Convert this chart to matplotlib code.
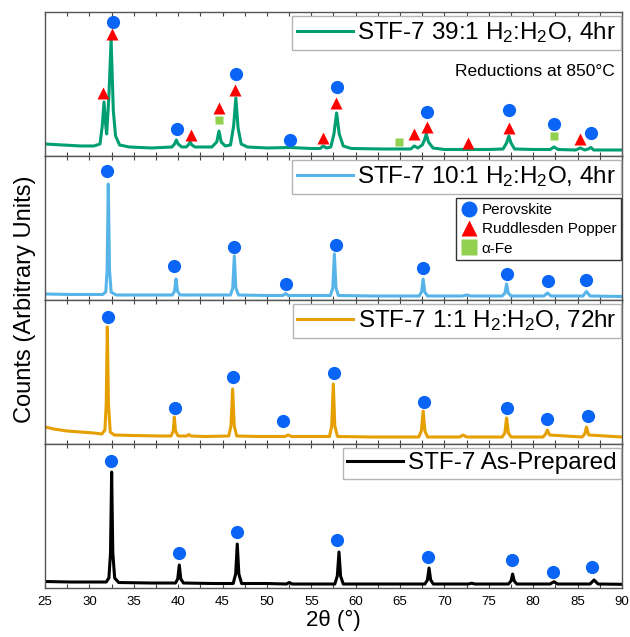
import matplotlib
matplotlib.use("Agg")
import matplotlib.pyplot as plt
from matplotlib.lines import Line2D
from matplotlib.ticker import MultipleLocator

plt.rcParams['font.family'] = ['Liberation Sans', 'DejaVu Sans']
plt.rcParams['mathtext.fontset'] = 'custom'
plt.rcParams['mathtext.rm'] = 'Liberation Sans'
plt.rcParams['mathtext.it'] = 'Liberation Sans:italic'
plt.rcParams['mathtext.default'] = 'regular'

# ---------------- data (2theta in degrees, counts in arbitrary units) ----------------
labels = ["STF-7 39:1 H$_2$:H$_2$O, 4hr",
          "STF-7 10:1 H$_2$:H$_2$O, 4hr",
          "STF-7 1:1 H$_2$:H$_2$O, 72hr",
          "STF-7 As-Prepared"]
line_colors = ["#009E73", "#56B4E9", "#E69F00", "#000000"]

# Panel 1 : 39:1 H2:H2O, 4 hr
tt_39 = [25, 27, 29, 30.5, 31.2, 31.45, 31.65, 31.85, 31.95, 32.2, 32.45, 32.7, 32.95, 33.4,
         34.5, 37, 39.3, 39.6, 39.8, 40.0, 40.4, 40.9, 41.15, 41.35, 41.55, 41.9, 43.8, 44.35,
         44.6, 44.85, 45.3, 45.9, 46.25, 46.5, 46.75, 47.1, 47.8, 50, 52.6, 55, 56.0, 56.35,
         56.7, 57.2, 57.55, 57.85, 58.15, 58.6, 59.5, 63, 65, 66.2, 66.6, 67.0, 67.5, 67.75,
         67.95, 68.2, 68.7, 70, 72.7, 75, 76.6, 77.0, 77.25, 77.5, 77.9, 80, 81.9, 82.35, 82.8,
         84.8, 85.3, 85.8, 86.2, 86.5, 86.8, 88, 90]
cnt_39 = [12, 11, 10, 10, 12, 30, 54, 30, 22, 60, 116, 45, 20, 11,
          9, 8, 9, 12, 16, 12, 9, 9, 11, 14, 11, 9, 9, 14,
          25, 14, 10, 11, 30, 58, 28, 12, 9, 8, 8.5, 7.5, 7.5, 10,
          8, 9, 22, 43, 22, 10, 7.5, 7, 7, 7, 10, 8, 11, 16,
          22, 14, 8, 6.5, 6.5, 6.5, 7, 13, 20, 13, 7, 6.5, 6.5, 9, 6.5,
          6, 8, 6, 7, 8.5, 6, 6, 6]

# Panel 2 : 10:1 H2:H2O, 4 hr
tt_10 = [25, 28, 31.5, 31.85, 32.0, 32.13, 32.27, 32.45, 33, 36, 39.35, 39.6, 39.76, 39.92,
         40.2, 43, 45.9, 46.15, 46.33, 46.5, 46.8, 50, 51.8, 52.1, 52.4, 55, 57.15, 57.42,
         57.6, 57.78, 58.05, 62, 67.15, 67.42, 67.6, 67.78, 68.1, 72, 72.5, 73, 76.5, 76.82,
         77.0, 77.18, 77.5, 81.2, 81.6, 82.0, 85.6, 86.0, 86.4, 90]
cnt_10 = [6, 5.5, 5.5, 8, 30, 116, 30, 8, 5, 5, 5, 9, 21, 9,
          5, 5, 5, 12, 44, 12, 5, 4.5, 4.5, 6.5, 4.5, 4.5, 4.5, 12,
          46, 12, 4.5, 4, 4, 8, 21, 8, 4, 4, 5, 4, 4, 7,
          16, 7, 4, 4, 7, 4, 4, 8.5, 4, 3.5]

# Panel 3 : 1:1 H2:H2O, 72 hr
tt_1 = [25, 26, 27.5, 29, 30.5, 31.4, 31.75, 31.9, 32.02, 32.15, 32.35, 32.8, 35, 38, 39.2,
        39.45, 39.57, 39.7, 40.0, 41.0, 41.2, 41.45, 43, 45.7, 45.95, 46.14, 46.32, 46.6, 49,
        52.0, 52.4, 52.8, 55, 57.05, 57.3, 57.48, 57.65, 57.95, 62, 67.1, 67.4, 67.6, 67.8,
        68.1, 71.7, 72.1, 72.5, 76.5, 76.8, 77.0, 77.2, 77.5, 81.1, 81.4, 81.6, 81.85, 85.5,
        85.8, 86.0, 86.25, 90]
cnt_1 = [17, 15, 13, 12, 11, 10, 14, 40, 117, 40, 12, 9, 8.5, 8, 8,
         13, 27, 13, 8, 8, 9.5, 8, 7.5, 8, 18, 55, 18, 8, 7.5,
         7.5, 9, 7.5, 7.5, 7.5, 18, 60, 18, 7.5, 7, 7, 13, 33, 13,
         7, 7, 9, 7, 7, 11, 26, 11, 7, 7, 10, 14, 9, 7,
         10, 17, 9, 7]

# Panel 4 : as-prepared
tt_ap = [25, 28, 31.9, 32.2, 32.38, 32.51, 32.64, 32.85, 33.3, 37, 39.7, 39.95, 40.13, 40.3,
         40.6, 44, 46.2, 46.48, 46.66, 46.84, 47.15, 50, 52.2, 52.52, 52.85, 55, 57.65, 57.93,
         58.12, 58.3, 58.6, 63, 67.8, 68.08, 68.26, 68.45, 68.75, 72.7, 73.07, 73.4, 77.2,
         77.5, 77.68, 77.86, 78.15, 81.9, 82.34, 82.75, 86.4, 86.85, 87.3, 90]
cnt_ap = [6.5, 6, 6, 10, 35, 116, 35, 10, 5.5, 5, 5, 9, 23, 9,
          5, 4.5, 4.5, 14, 44, 14, 4.5, 4.5, 4, 5.5, 4, 4, 4, 12,
          36, 12, 4, 4, 4, 8, 20, 8, 4, 4, 4.8, 4, 4,
          7, 14, 7, 4, 4, 6.3, 4, 4, 8, 4, 3.7]

# Phase markers: Perovskite (circle), Ruddlesden-Popper (triangle), alpha-Fe (square)
perov_x_39 = [32.63, 39.84, 46.52, 52.60, 57.86, 68.0, 77.27, 82.37, 86.51]
perov_y_39 = [134, 27, 82, 16, 69, 44, 46, 32, 23]
rp_x_39 = [31.50, 32.51, 41.41, 44.64, 46.44, 56.35, 57.78, 66.57, 68.07, 72.69, 77.30, 85.27]
rp_y_39 = [63, 122, 21, 48, 66, 18, 53, 22, 29, 13, 28, 17]
fe_x_39 = [44.64, 64.91, 82.37]
fe_y_39 = [36, 14, 20]

perov_x_10 = [32.0, 39.57, 46.33, 52.1, 57.78, 67.6, 77.0, 81.7, 85.95]
perov_y_10 = [129, 34, 53, 16, 55, 32, 26, 19, 20]

perov_x_1 = [32.06, 39.64, 46.14, 51.85, 57.6, 67.73, 77.1, 81.5, 86.2]
perov_y_1 = [127, 36, 67, 23, 71, 42, 36, 25, 28]

perov_x_ap = [32.4, 40.13, 46.6, 57.93, 68.18, 77.57, 82.19, 86.58]
perov_y_ap = [127, 35, 56, 48, 31, 28, 16, 21]

phase_names = ["Perovskite", "Ruddlesden Popper", "\u03b1-Fe"]
phase_colors = ["#0a64f5", "#ff0000", "#92d050"]

xticks_major = [25, 30, 35, 40, 45, 50, 55, 60, 65, 70, 75, 80, 85, 90]

# ---------------- figure ----------------
fig = plt.figure(figsize=(6.3, 6.37), dpi=100)
axes = fig.subplots(4, 1, sharex=True)
fig.subplots_adjust(left=0.0714, right=0.9873, bottom=0.0769, top=0.9812, hspace=0)

series = [(tt_39, cnt_39), (tt_10, cnt_10), (tt_1, cnt_1), (tt_ap, cnt_ap)]
perovs = [(perov_x_39, perov_y_39), (perov_x_10, perov_y_10),
          (perov_x_1, perov_y_1), (perov_x_ap, perov_y_ap)]

for i, ax in enumerate(axes):
    x, y = series[i]
    ax.plot(x, y, color=line_colors[i], lw=2.2, solid_joinstyle='round', label=labels[i])
    px, py = perovs[i]
    ax.plot(px, py, ls='none', marker='o', ms=9.5, color=phase_colors[0], mec='none')
    ax.set_xlim(25, 90)
    ax.set_ylim(0, 144)
    ax.set_yticks([])
    ax.xaxis.set_major_locator(MultipleLocator(5))
    ax.xaxis.set_minor_locator(MultipleLocator(2.5))
    ax.tick_params(axis='x', which='both', direction='in', top=True, bottom=True,
                   length=3, width=0.8, color='#444444', labelsize=9.5, pad=6)
    for s in ax.spines.values():
        s.set_color('#555555')
        s.set_linewidth(1.0)
    leg = ax.legend(loc='upper right', bbox_to_anchor=(0.998, 0.972), borderaxespad=0,
                    fontsize=17.5, handlelength=2.3, handletextpad=0.2, borderpad=0.18,
                    fancybox=False, framealpha=1, edgecolor='#b5b5b5')
    leg.get_frame().set_linewidth(1.0)
    if i < 3:
        ax.tick_params(axis='x', labelbottom=False)

ax0 = axes[0]
ax0.plot(rp_x_39, rp_y_39, ls='none', marker='^', ms=8.3, color=phase_colors[1], mec='none')
ax0.plot(fe_x_39, fe_y_39, ls='none', marker='s', ms=5.5, color=phase_colors[2], mec='none')
ax0.text(0.988, 0.59, "Reductions at 850\u00b0C", transform=ax0.transAxes,
         ha='right', va='center', fontsize=12.5)

# phase legend in second panel
ax1 = axes[1]
main_leg = ax1.get_legend()
handles = [Line2D([], [], ls='none', marker='o', ms=11.5, color=phase_colors[0], mec='none'),
           Line2D([], [], ls='none', marker='^', ms=12, color=phase_colors[1], mec='none'),
           Line2D([], [], ls='none', marker='s', ms=11, color=phase_colors[2], mec='none')]
leg2 = ax1.legend(handles, phase_names, loc='upper right', bbox_to_anchor=(0.998, 0.705),
                  borderaxespad=0, fontsize=11, handlelength=1.0, handletextpad=0.35,
                  borderpad=0.3, labelspacing=0.35, fancybox=False, framealpha=1,
                  edgecolor='#333333')
leg2.get_frame().set_linewidth(1.0)
ax1.add_artist(main_leg)

axes[-1].set_xticks(xticks_major)
axes[-1].set_xlabel("2\u03b8 (\u00b0)", fontsize=16, labelpad=1)
fig.supylabel("Counts (Arbitrary Units)", fontsize=17, x=0.022, y=0.53)

fig.savefig("out.png", dpi=100)
